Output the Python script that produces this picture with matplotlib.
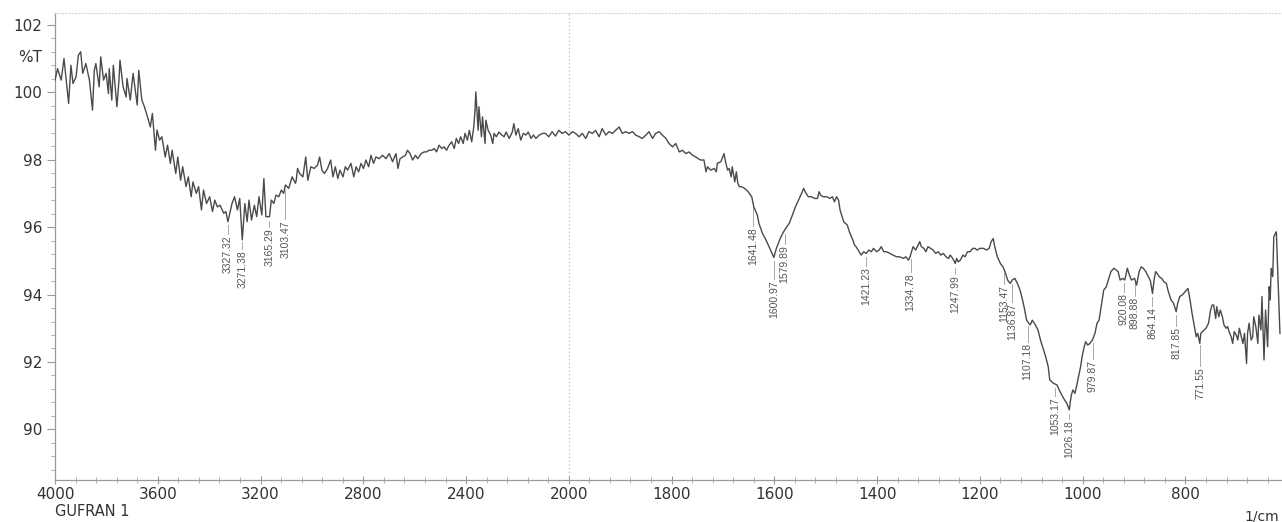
import numpy as np
import matplotlib
matplotlib.use('Agg')
import matplotlib.pyplot as plt
from matplotlib.ticker import FixedLocator, FuncFormatter

# ---- spectrum (1/cm, %T) ----
wavenumber = [
    4000, 3990, 3976, 3965, 3947, 3938, 3930, 3918, 3909, 3900, 3892, 3880, 3866, 3854, 3847, 3841,
    3828, 3822, 3811, 3801, 3792, 3789, 3779, 3773, 3759, 3751, 3747, 3735, 3723, 3720, 3707, 3696,
    3680, 3674, 3662, 3652, 3640, 3629, 3621, 3609, 3603, 3593, 3584, 3571, 3562, 3551, 3544, 3530,
    3522, 3511, 3503, 3490, 3481, 3470, 3463, 3450, 3441, 3430, 3422, 3410, 3398, 3387, 3378, 3368,
    3358, 3343, 3335, 3327, 3311, 3301, 3290, 3281, 3271, 3261, 3252, 3245, 3235, 3224, 3215, 3206,
    3195, 3187, 3179, 3165, 3158, 3148, 3140, 3129, 3119, 3110, 3103, 3090, 3077, 3064,
    3061, 3056, 3048, 3035, 3024, 3016, 3004, 2991, 2978, 2970, 2961, 2951, 2939, 2927, 2918, 2909,
    2899, 2891, 2879, 2870, 2861, 2848, 2837, 2828, 2818, 2809, 2799, 2790, 2779, 2770, 2760, 2751,
    2738, 2725, 2712, 2699, 2686, 2673, 2665, 2657, 2647, 2636, 2628, 2618, 2608, 2597, 2588, 2575,
    2563, 2554, 2544, 2533, 2524, 2515, 2505, 2494, 2485, 2476, 2466, 2456, 2446, 2438, 2429, 2421,
    2411, 2404, 2395, 2387, 2378, 2370, 2365, 2362, 2353, 2350, 2340, 2336, 2326, 2323, 2314, 2304,
    2296, 2291, 2282, 2272, 2261, 2252, 2244, 2232, 2220, 2214, 2206, 2197, 2187, 2177, 2167, 2158,
    2147, 2138, 2128, 2115, 2102,
    2091, 2078, 2065, 2052, 2039, 2026, 2013, 2000, 1993, 1987, 1980, 1974, 1967, 1961, 1954, 1948,
    1941, 1935, 1928, 1922, 1915, 1909, 1902, 1896, 1889, 1883, 1876, 1870, 1863, 1857, 1850, 1844,
    1837, 1831, 1824, 1818, 1811, 1805, 1798, 1792, 1785, 1779, 1772, 1766, 1759, 1753, 1744, 1737,
    1733, 1730, 1724, 1717, 1713, 1711, 1704, 1698, 1695, 1691, 1688, 1684, 1682, 1677, 1674, 1671,
    1668, 1664, 1658, 1651, 1644, 1640, 1637, 1633, 1630, 1623, 1616, 1609, 1601, 1596, 1590, 1584,
    1578, 1571, 1565, 1559,
    1553, 1547, 1543, 1540, 1534, 1528, 1521, 1516, 1513, 1510, 1505, 1498, 1492, 1487, 1483, 1479,
    1475, 1472, 1465, 1458, 1454, 1447, 1444, 1441, 1435, 1431, 1426, 1421, 1416, 1411, 1407, 1401,
    1396, 1392, 1387, 1382, 1375, 1369, 1362, 1356, 1349, 1344, 1339, 1336, 1333, 1330, 1325, 1320,
    1317, 1314, 1309, 1305, 1301, 1296, 1291, 1286, 1281, 1276, 1271, 1266, 1261, 1258, 1255, 1251,
    1248, 1245, 1242, 1238, 1233, 1229, 1224, 1219, 1214, 1210, 1205, 1200, 1193, 1187, 1182, 1178,
    1174, 1171, 1166, 1160, 1155, 1150, 1146, 1141, 1137, 1132, 1127, 1123, 1120, 1114, 1109, 1105,
    1102, 1098, 1092, 1087, 1082, 1078, 1072, 1067, 1064,
    1057, 1050, 1044, 1037, 1031, 1026, 1024, 1022, 1019, 1015, 1012, 1008, 1004, 1001, 997, 994,
    990, 986, 981, 976, 972, 968, 963, 959, 954, 950, 945, 942, 939, 935, 931, 927,
    922, 918, 913, 909, 905, 899, 895, 890, 886, 882, 877, 872, 868, 864, 861, 858,
    855, 851, 846, 842, 837, 834, 828, 823, 818, 815, 811, 806, 801, 798, 795, 791,
    787, 783, 779, 776, 772, 770, 767, 760, 755, 751, 748, 745, 741, 739, 735, 732,
    728, 725, 721, 718, 715, 711, 708, 705, 701, 698, 695, 692, 688, 685, 681, 679,
    676, 672, 669, 667, 663, 659, 657, 653, 651, 647, 644, 640, 637, 635, 633, 630,
    628, 625, 623, 616,
]
transmittance = [
    100.36, 100.70, 100.36, 101.00, 99.67, 100.80, 100.26, 100.46, 101.10, 101.20, 100.56, 100.85, 100.36, 99.47, 100.65, 100.85,
    100.16, 101.05, 100.36, 100.56, 99.96, 100.70, 99.77, 100.80, 99.57, 100.36, 100.95, 100.16, 99.86, 100.41, 99.77, 100.56,
    99.62, 100.65, 99.77, 99.57, 99.27, 98.97, 99.37, 98.28, 98.88, 98.58, 98.68, 98.08, 98.43, 97.89, 98.28, 97.59,
    98.08, 97.39, 97.79, 97.20, 97.49, 96.90, 97.34, 97.00, 97.20, 96.51, 97.10, 96.70, 96.90, 96.46, 96.80, 96.60,
    96.65, 96.41, 96.46, 96.16, 96.70, 96.90, 96.51, 96.85, 95.62, 96.70, 96.16, 96.80, 96.21, 96.65, 96.31, 96.90,
    96.36, 97.44, 96.31, 96.31, 96.80, 96.70, 96.95, 96.90, 97.10, 97.00, 97.25, 97.15, 97.49, 97.30,
    97.39, 97.74, 97.59, 97.49, 98.08, 97.39, 97.79, 97.74, 97.84, 98.08, 97.69, 97.59, 97.74, 97.99, 97.49, 97.79,
    97.44, 97.69, 97.49, 97.79, 97.69, 97.89, 97.49, 97.79, 97.64, 97.89, 97.74, 97.99, 97.79, 98.13, 97.89, 98.08,
    98.03, 98.13, 98.03, 98.18, 97.94, 98.18, 97.74, 98.03, 98.08, 98.13, 98.28, 98.18, 97.99, 98.13, 98.03, 98.18,
    98.23, 98.23, 98.28, 98.28, 98.33, 98.23, 98.43, 98.33, 98.38, 98.28, 98.43, 98.53, 98.33, 98.63, 98.48, 98.68,
    98.48, 98.78, 98.58, 98.87, 98.53, 98.97, 99.47, 100.01, 98.87, 99.57, 98.68, 99.27, 98.48, 99.17, 98.87, 98.73,
    98.48, 98.78, 98.68, 98.82, 98.73, 98.68, 98.82, 98.63, 98.82, 99.07, 98.73, 98.92, 98.58, 98.78, 98.73, 98.82,
    98.63, 98.73, 98.63, 98.73, 98.78,
    98.78, 98.68, 98.83, 98.70, 98.87, 98.78, 98.83, 98.73, 98.83, 98.78, 98.68, 98.78, 98.63, 98.83, 98.78, 98.87,
    98.68, 98.92, 98.73, 98.83, 98.78, 98.87, 98.97, 98.78, 98.83, 98.78, 98.83, 98.73, 98.68, 98.63, 98.73, 98.83,
    98.63, 98.78, 98.83, 98.73, 98.63, 98.48, 98.38, 98.48, 98.23, 98.28, 98.18, 98.23, 98.13, 98.08, 97.99, 97.99,
    97.64, 97.79, 97.69, 97.74, 97.64, 97.89, 97.94, 98.18, 97.94, 97.69, 97.74, 97.49, 97.79, 97.34, 97.64, 97.29,
    97.20, 97.20, 97.15, 97.05, 96.90, 96.60, 96.50, 96.35, 96.11, 95.81, 95.61, 95.37, 95.10, 95.37, 95.61, 95.81,
    95.96, 96.11, 96.35, 96.60,
    96.80, 97.00, 97.15, 97.05, 96.90, 96.90, 96.85, 96.85, 97.05, 96.95, 96.90, 96.90, 96.85, 96.90, 96.75, 96.90,
    96.80, 96.50, 96.16, 96.06, 95.86, 95.61, 95.47, 95.42, 95.27, 95.17, 95.27, 95.22, 95.32, 95.27, 95.37, 95.27,
    95.32, 95.42, 95.27, 95.27, 95.22, 95.17, 95.12, 95.12, 95.07, 95.12, 95.02, 95.12, 95.27, 95.42, 95.32, 95.47,
    95.57, 95.42, 95.37, 95.27, 95.42, 95.37, 95.32, 95.22, 95.27, 95.17, 95.22, 95.12, 95.07, 95.17, 95.12, 95.02,
    94.92, 95.07, 94.97, 95.02, 95.17, 95.12, 95.27, 95.27, 95.37, 95.37, 95.32, 95.37, 95.37, 95.32, 95.37, 95.57,
    95.66, 95.42, 95.12, 94.92, 94.82, 94.63, 94.43, 94.33, 94.43, 94.48, 94.33, 94.18, 94.03, 93.64, 93.24, 93.15,
    93.10, 93.24, 93.10, 92.95, 92.65, 92.45, 92.16, 91.86, 91.47,
    91.37, 91.32, 91.12, 90.92, 90.78, 90.58, 90.82, 91.02, 91.17, 91.07, 91.27, 91.57, 91.86, 92.16, 92.45, 92.60,
    92.50, 92.55, 92.65, 92.85, 93.15, 93.24, 93.74, 94.13, 94.23, 94.43, 94.68, 94.73, 94.78, 94.73, 94.68, 94.43,
    94.48, 94.43, 94.78, 94.58, 94.43, 94.48, 94.28, 94.68, 94.82, 94.78, 94.68, 94.53, 94.40, 94.03, 94.43, 94.68,
    94.63, 94.53, 94.48, 94.38, 94.33, 94.13, 93.84, 93.74, 93.49, 93.74, 93.94, 93.99, 94.08, 94.13, 94.18, 93.84,
    93.44, 93.10, 92.75, 92.85, 92.55, 92.85, 92.90, 93.00, 93.15, 93.54, 93.69, 93.69, 93.29, 93.64, 93.34, 93.54,
    93.34, 93.10, 93.00, 93.05, 92.90, 92.75, 92.55, 92.90, 92.80, 92.65, 93.00, 92.80, 92.55, 92.85, 91.96, 92.85,
    93.15, 92.65, 92.75, 93.34, 93.05, 92.55, 93.39, 92.95, 93.94, 92.06, 93.54, 92.45, 94.23, 93.84, 94.78, 94.53,
    95.71, 95.81, 95.86, 92.85,
]

# peak picks printed on the chart
peak_wn = [3327.32, 3271.38, 3165.29, 3103.47, 1641.48, 1600.97, 1579.89, 1421.23, 1334.78, 1247.99,
           1153.47, 1136.87, 1107.18, 1053.17, 1026.18, 979.87, 920.08, 898.88, 864.14, 817.85, 771.55]
# %T level where each printed label starts (below its peak)
label_top = [95.76, 95.32, 95.97, 96.21, 96.00, 94.43, 95.47, 94.81, 94.64, 94.58,
             94.28, 93.75, 92.56, 90.96, 90.28, 92.06, 94.04, 93.93, 93.63, 93.04, 91.85]

x_major = [4000, 3600, 3200, 2800, 2400, 2000, 1800, 1600, 1400, 1200, 1000, 800]
x_minor = list(range(4000, 2000, -80)) + list(range(2000, 611, -40))


# the recorder halves the scale above 2000 1/cm
def fwd(x):
    x = np.asarray(x, dtype=float)
    return np.where(x > 2000, 2000 + (x - 2000) / 2.0, x)


def inv(u):
    u = np.asarray(u, dtype=float)
    return np.where(u > 2000, 2000 + (u - 2000) * 2.0, u)


W, H = 1282, 522
fig = plt.figure(figsize=(W / 100, H / 100), dpi=100)
ax = fig.add_axes([55 / W, 1 - 480 / H, 1 - 55 / W, (480 - 13) / H])
ax.set_xscale('function', functions=(fwd, inv))

ax.plot(wavenumber, transmittance, color='#4a4a4a', lw=1.0, zorder=3)
ax.axvline(2000, color='#bdbdbd', lw=0.9, ls=(0, (1, 2)), zorder=1)

ax.set_xlim(4000, 612)
ax.set_ylim(88.5, 102.35)

ax.xaxis.set_major_locator(FixedLocator(x_major))
ax.xaxis.set_minor_locator(FixedLocator(x_minor))
ax.xaxis.set_major_formatter(FuncFormatter(lambda v, p: f'{v:.0f}'))
ax.yaxis.set_major_locator(FixedLocator([90, 92, 94, 96, 98, 100, 102]))
ax.yaxis.set_minor_locator(FixedLocator(np.arange(88.8, 102.3, 0.4)))

ax.tick_params(axis='x', which='major', direction='inout', length=6, width=0.8,
               color='#9a9a9a', labelsize=11, labelcolor='#333333', pad=2)
ax.tick_params(axis='x', which='minor', direction='inout', length=4, width=0.6, color='#a8a8a8')
ax.tick_params(axis='y', which='major', direction='out', length=6, width=0.8,
               color='#9a9a9a', labelsize=11, labelcolor='#333333', pad=3)
ax.tick_params(axis='y', which='minor', direction='out', length=3, width=0.6, color='#a8a8a8')
for lab in ax.get_xticklabels() + ax.get_yticklabels():
    lab.set_family('DejaVu Sans')

ax.spines['right'].set_visible(False)
ax.spines['top'].set_color('#d4d4d4')
ax.spines['top'].set_linestyle((0, (1, 2)))
ax.spines['top'].set_linewidth(0.8)
for s in ('left', 'bottom'):
    ax.spines[s].set_color('#9a9a9a')
    ax.spines[s].set_linewidth(0.9)

# peak labels hanging under the trace
spec_at = np.interp(peak_wn, wavenumber[::-1], transmittance[::-1])
for wn, top, t0 in zip(peak_wn, label_top, spec_at):
    if t0 - 0.12 > top + 0.04:
        ax.plot([wn, wn], [t0 - 0.12, top + 0.04], color='#9a9a9a', lw=0.6, zorder=2)
    ax.text(wn, top, f'{wn:.2f}', rotation=90, ha='center', va='top', fontsize=7.5,
            color='#555555', family=['Liberation Sans Narrow', 'Liberation Sans'])

fig.text(42 / W, 1 - 58 / H, '%T', ha='right', va='center', fontsize=11,
         color='#333333', family='DejaVu Sans')
fig.text(55 / W, 1 - 511 / H, 'GUFRAN 1', ha='left', va='center', fontsize=10.5,
         color='#333333', family='DejaVu Sans')
fig.text(1244 / W, 1 - 517 / H, '1/cm', ha='left', va='center', fontsize=10,
         color='#333333', family='DejaVu Sans')

fig.savefig('out.png', dpi=100)
